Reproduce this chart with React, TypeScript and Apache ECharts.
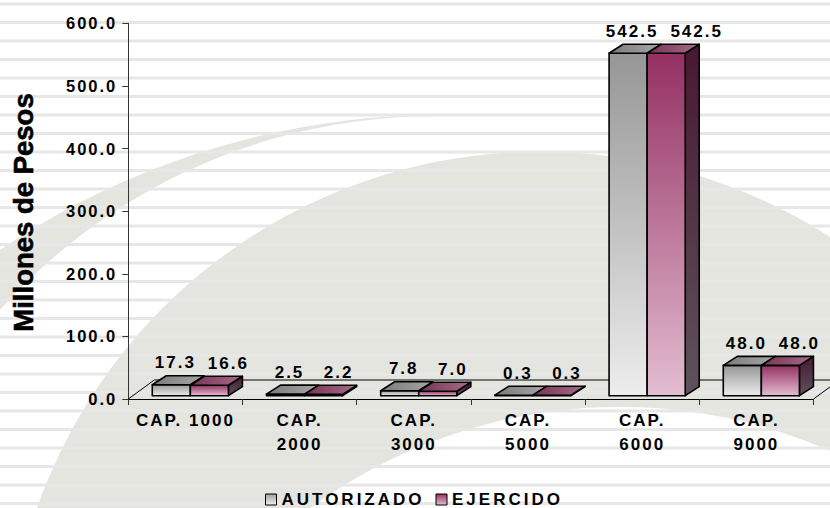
import React, { useEffect, useRef } from 'react';
import * as echarts from 'echarts';

// ---- data ----
const categories = ['CAP. 1000', 'CAP.\n2000', 'CAP.\n3000', 'CAP.\n5000', 'CAP.\n6000', 'CAP.\n9000'];
const autorizado = [17.3, 2.5, 7.8, 0.3, 542.5, 48.0];
const ejercido = [16.6, 2.2, 7.0, 0.3, 542.5, 48.0];
const seriesNames = ['AUTORIZADO', 'EJERCIDO'];
const yAxisTitle = 'Millones de Pesos';
const yMin = 0;
const yMax = 600;
const yInterval = 100;

const FONT = '"Liberation Sans", Arial, Helvetica, sans-serif';
const LABEL_SIZE = 17;
const SPACING = 2;

// 3D look
const DX = 14;
const DY = -9;
const LIFT = 3.3;
const BAR_SCALE = 1.008;
const FLOOR_DX = 26;
const FLOOR_DY = -19;

const lg = (stops: [number, string][], x2 = 0, y2 = 1) =>
  new echarts.graphic.LinearGradient(0, 0, x2, y2, stops.map(([offset, color]) => ({ offset, color })));

const palettes = [
  {
    front: () => lg([[0, '#969696'], [1, '#ededed']]),
    top: () => lg([[0, '#7b7b7b'], [1, '#a6a6a6']], 1, 0),
    side: () => lg([[0, '#555'], [1, '#777']]),
    legend: () => lg([[0, '#a0a0a0'], [1, '#f0f0f0']]),
  },
  {
    front: () => lg([[0, '#943062'], [1, '#e3bdd1']]),
    top: () => lg([[0, '#763656'], [1, '#a86a8a']], 1, 0),
    side: () => lg([[0, '#471832'], [1, '#5e535b']]),
    legend: () => lg([[0, '#963264'], [1, '#e3bdd1']]),
  },
];

// rough width of a bold label with the page's letter spacing
const labelWidth = (t: string) => {
  let w = 0;
  for (const ch of t) w += ch === '.' ? 0.278 * LABEL_SIZE : 0.556 * LABEL_SIZE;
  return w + (t.length - 1) * SPACING;
};

function makeBarRenderer(s: number, other: number[]) {
  return (params: any, api: any) => {
    const i = api.value(0);
    const v = api.value(1);
    const p0 = api.coord([i, 0]);
    const p1 = api.coord([i, v]);
    const cw = api.size([1, 0])[0];
    const w = cw / 3;
    const groupLeft = p0[0] - cw * 0.29;
    const x0 = groupLeft + s * w;
    const x1 = x0 + w;
    const yb = p0[1] - LIFT;
    const yt = Math.min(yb - (p0[1] - p1[1]) * BAR_SCALE, yb - 0.5);
    const pal = palettes[s];
    const stroke = { stroke: '#000', lineWidth: 1.6, lineJoin: 'round' };
    const children: any[] = [];
    if (s === 1) {
      children.push({
        type: 'polygon',
        shape: { points: [[x1, yt], [x1 + DX, yt + DY], [x1 + DX, yb + DY], [x1, yb]] },
        style: { fill: pal.side(), ...stroke },
      });
    }
    children.push({
      type: 'rect',
      shape: { x: x0, y: yt, width: w, height: yb - yt },
      style: { fill: pal.front(), ...stroke },
    });
    children.push({
      type: 'polygon',
      shape: { points: [[x0, yt], [x0 + DX, yt + DY], [x1 + DX, yt + DY], [x1, yt]] },
      style: { fill: pal.top(), ...stroke },
    });
    const text = Number(v).toFixed(1);
    const grayLabelX = groupLeft + w / 2 + 4;
    let lx = grayLabelX;
    if (s === 1) {
      const grayText = Number(other[i]).toFixed(1);
      lx = Math.max(x0 + w / 2 + 15, grayLabelX + (labelWidth(grayText) + labelWidth(text)) / 2 + 14);
    }
    children.push({
      type: 'text',
      style: {
        text,
        x: lx,
        y: yt + DY - 13,
        align: 'center',
        verticalAlign: 'middle',
        font: `bold ${LABEL_SIZE}px ${FONT}`,
        fill: '#000',
      },
    });
    return { type: 'group', children };
  };
}

function floorRenderer(params: any, api: any) {
  const cs = params.coordSys;
  const y0 = api.coord([0, 0])[1];
  const xl = cs.x;
  const xr = cs.x + cs.width;
  const ls = { stroke: '#000', lineWidth: 1 };
  return {
    type: 'group',
    children: [
      { type: 'line', shape: { x1: xl, y1: y0, x2: xl + FLOOR_DX, y2: y0 + FLOOR_DY }, style: ls },
      { type: 'line', shape: { x1: xl + FLOOR_DX, y1: y0 + FLOOR_DY, x2: xr + FLOOR_DX, y2: y0 + FLOOR_DY }, style: ls },
      { type: 'line', shape: { x1: xr, y1: y0, x2: xr + FLOOR_DX, y2: y0 + FLOOR_DY }, style: ls },
    ],
  };
}

function arc(cx: number, cy: number, r: number, a0: number, a1: number, n: number) {
  const pts: number[][] = [];
  for (let k = 0; k <= n; k++) {
    const a = a0 + ((a1 - a0) * k) / n;
    pts.push([cx + r * Math.cos(a), cy + r * Math.sin(a)]);
  }
  return pts;
}

function background() {
  const gray = '#e5e5e0';
  const els: any[] = [];
  els.push({ type: 'rect', z: -20, silent: true, shape: { x: 0, y: 0, width: 830, height: 508 }, style: { fill: '#fff' } });
  const outer = arc(440.8, 901.9, 787, -Math.PI / 2, -Math.PI - 0.3, 120);
  const inner = arc(434.2, 699.6, 583.4, -Math.PI - 0.3, -Math.PI / 2, 120);
  els.push({ type: 'polygon', z: -19, silent: true, shape: { points: [...outer, ...inner] }, style: { fill: gray } });
  els.push({ type: 'circle', z: -18, silent: true, shape: { cx: 540.3, cy: 685.2, r: 533.6 }, style: { fill: gray } });
  els.push({ type: 'circle', z: -17, silent: true, shape: { cx: 620, cy: 933, r: 526 }, style: { fill: '#fff' } });
  for (let k = 0; k < 28; k++) {
    els.push({ type: 'rect', z: -16, silent: true, shape: { x: 0, y: 2.5 + 18.5 * k, width: 830, height: 3 }, style: { fill: '#e7e7e7' } });
  }
  els.push({
    type: 'text',
    z: 10,
    x: 23.3,
    y: 212.5,
    rotation: Math.PI / 2,
    style: { text: yAxisTitle, font: `bold 27.5px ${FONT}`, align: 'center', verticalAlign: 'middle', fill: '#000', stroke: '#000', lineWidth: 0.6 },
  });
  return els;
}

export default function App() {
  const ref = useRef<HTMLDivElement>(null);
  useEffect(() => {
    if (!ref.current) return;
    const chart = echarts.init(ref.current, undefined, { renderer: 'svg' });
    const option: any = {
      animation: false,
      textStyle: { fontFamily: FONT },
      graphic: { elements: background() },
      grid: { left: 128.3, right: 16.5, top: 23.3, bottom: 109, containLabel: false, outerBoundsMode: 'none' },
      legend: {
        data: seriesNames.map((name, s) => ({
          name,
          icon: 'rect',
          itemStyle: { color: palettes[s].legend(), borderColor: '#000', borderWidth: 1 },
        })),
        left: 265,
        top: 491,
        padding: 0,
        itemWidth: 11,
        itemHeight: 11,
        itemGap: 41,
        selectedMode: false,
        textStyle: { fontSize: 17, fontWeight: 'bold', color: '#000', fontFamily: FONT },
      },
      xAxis: {
        type: 'category',
        data: categories,
        axisLine: { show: true, lineStyle: { color: '#000', width: 1 } },
        axisTick: { show: true, length: 6, lineStyle: { color: '#333' } },
        axisLabel: { interval: 0, fontSize: 17, fontWeight: 'bold', color: '#000', lineHeight: 24, margin: 9 },
        splitLine: { show: false },
      },
      yAxis: {
        type: 'value',
        min: yMin,
        max: yMax,
        interval: yInterval,
        axisLine: { show: true, lineStyle: { color: '#333', width: 1 } },
        axisTick: { show: true, length: 6, lineStyle: { color: '#333' } },
        axisLabel: { formatter: (v: number) => v.toFixed(1), fontSize: 16.5, fontWeight: 'bold', color: '#000', margin: 11 },
        splitLine: { show: false },
      },
      series: [
        {
          name: 'floor',
          type: 'custom',
          z: 1,
          clip: false,
          silent: true,
          renderItem: floorRenderer,
          data: [[0, 0]],
          encode: { x: 0, y: 1 },
        },
        ...[autorizado, ejercido].map((vals, s) => ({
          name: seriesNames[s],
          type: 'custom',
          z: 2 + s,
          clip: false,
          renderItem: makeBarRenderer(s, autorizado),
          data: vals.map((v, i) => [i, v]),
          encode: { x: 0, y: 1 },
        })),
      ],
    };
    const fixText = () => {
      const root = ref.current;
      if (!root) return;
      root.querySelectorAll('text').forEach((t) => {
        const c = t.textContent;
        if (c === yAxisTitle) (t as SVGTextElement).style.letterSpacing = '0px';
        else if (c && seriesNames.includes(c)) (t as SVGTextElement).style.letterSpacing = '3px';
      });
    };
    chart.on('finished', fixText);
    chart.setOption(option);
    fixText();
    const raf = requestAnimationFrame(fixText);
    const tm = setTimeout(fixText, 60);
    return () => {
      cancelAnimationFrame(raf);
      clearTimeout(tm);
      chart.dispose();
    };
  }, []);
  return (
    <div
      ref={ref}
      style={{ position: 'absolute', left: 0, top: 0, width: 830, height: 508, letterSpacing: `${SPACING}px`, background: '#fff' }}
    />
  );
}
